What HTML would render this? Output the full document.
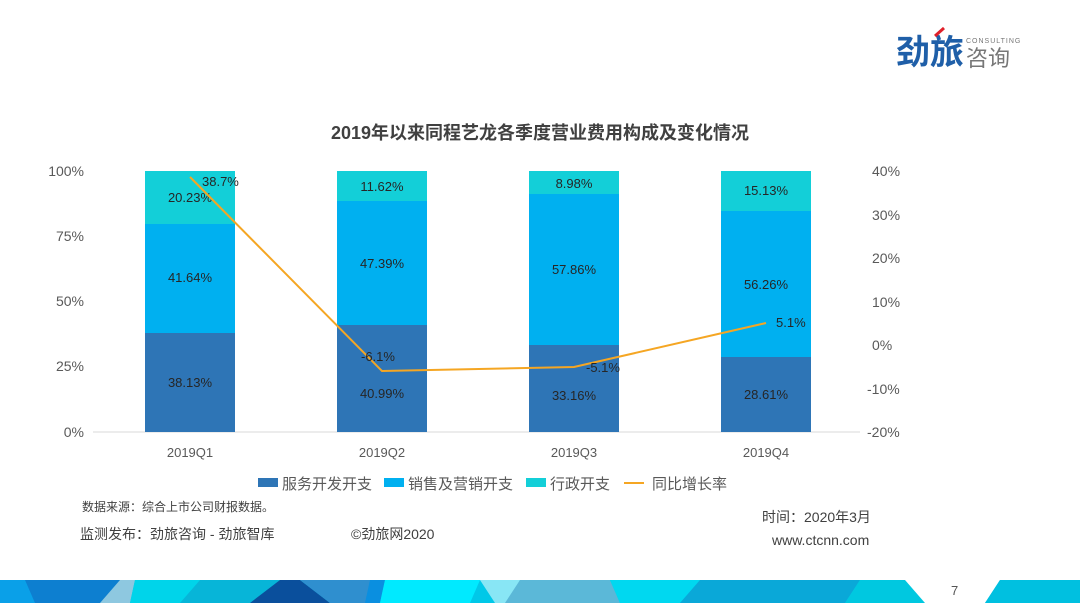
<!DOCTYPE html>
<html><head><meta charset="utf-8"><style>
body{margin:0;width:1080px;height:603px;overflow:hidden;background:#fff;font-family:"Liberation Sans","Noto Sans CJK SC",sans-serif}
</style></head><body>
<svg width="1080" height="603" xmlns="http://www.w3.org/2000/svg" font-family="Liberation Sans, Noto Sans CJK SC, sans-serif">
<!-- logo -->
<text x="896" y="64" font-size="34" font-weight="bold" fill="#1f5fa8" font-family="Noto Sans CJK SC, sans-serif">劲旅</text>
<path d="M935 36 L944 28" stroke="#e0202a" stroke-width="3"/>
<text x="966" y="43" font-size="7" fill="#777" letter-spacing="1">CONSULTING</text>
<text x="966" y="66" font-size="22" fill="#777" font-family="Noto Sans CJK SC, sans-serif">咨询</text>
<!-- title -->
<text x="540" y="139" text-anchor="middle" font-size="18" font-weight="bold" fill="#404040">2019年以来同程艺龙各季度营业费用构成及变化情况</text>
<!-- axes labels -->
<g font-size="14" fill="#595959" text-anchor="end">
<text x="84" y="176">100%</text><text x="84" y="241">75%</text><text x="84" y="306">50%</text><text x="84" y="371">25%</text><text x="84" y="437">0%</text>
</g>
<g font-size="14" fill="#595959">
<text x="872" y="176">40%</text><text x="872" y="220">30%</text><text x="872" y="263">20%</text><text x="872" y="307">10%</text><text x="872" y="350">0%</text><text x="867" y="394">-10%</text><text x="867" y="437">-20%</text>
</g>
<line x1="93" y1="432" x2="860" y2="432" stroke="#d9d9d9"/>
<!-- bars -->
<g>
<rect x="145" y="171" width="90" height="53" fill="#13cfd8"/><rect x="145" y="224" width="90" height="109" fill="#00b0f0"/><rect x="145" y="333" width="90" height="99" fill="#2e75b6"/>
<rect x="337" y="171" width="90" height="30" fill="#13cfd8"/><rect x="337" y="201" width="90" height="124" fill="#00b0f0"/><rect x="337" y="325" width="90" height="107" fill="#2e75b6"/>
<rect x="529" y="171" width="90" height="23" fill="#13cfd8"/><rect x="529" y="194" width="90" height="151" fill="#00b0f0"/><rect x="529" y="345" width="90" height="87" fill="#2e75b6"/>
<rect x="721" y="171" width="90" height="40" fill="#13cfd8"/><rect x="721" y="211" width="90" height="146" fill="#00b0f0"/><rect x="721" y="357" width="90" height="75" fill="#2e75b6"/>
</g>
<g font-size="13" fill="#262626" text-anchor="middle">
<text x="190" y="202">20.23%</text><text x="190" y="282">41.64%</text><text x="190" y="387">38.13%</text>
<text x="382" y="191">11.62%</text><text x="382" y="268">47.39%</text><text x="382" y="398">40.99%</text>
<text x="574" y="188">8.98%</text><text x="574" y="274">57.86%</text><text x="574" y="400">33.16%</text>
<text x="766" y="195">15.13%</text><text x="766" y="289">56.26%</text><text x="766" y="399">28.61%</text>
</g>
<polyline points="190,177 382,371 574,367 766,323" fill="none" stroke="#f5a623" stroke-width="2"/>
<g font-size="13" fill="#262626">
<text x="202" y="186">38.7%</text><text x="361" y="361">-6.1%</text><text x="586" y="372">-5.1%</text><text x="776" y="327">5.1%</text>
</g>
<g font-size="13" fill="#595959" text-anchor="middle">
<text x="190" y="457">2019Q1</text><text x="382" y="457">2019Q2</text><text x="574" y="457">2019Q3</text><text x="766" y="457">2019Q4</text>
</g>
<!-- legend -->
<g font-size="15" fill="#595959">
<rect x="258" y="478" width="20" height="9" fill="#2e75b6"/><text x="282" y="489">服务开发开支</text>
<rect x="384" y="478" width="20" height="9" fill="#00b0f0"/><text x="408" y="489">销售及营销开支</text>
<rect x="526" y="478" width="20" height="9" fill="#13cfd8"/><text x="550" y="489">行政开支</text>
<line x1="624" y1="483" x2="644" y2="483" stroke="#f5a623" stroke-width="2"/><text x="652" y="489">同比增长率</text>
</g>
<text x="82" y="511" font-size="12" fill="#404040">数据来源：综合上市公司财报数据。</text>
<text x="80" y="539" font-size="14" fill="#404040">监测发布：劲旅咨询 - 劲旅智库</text>
<text x="351" y="539" font-size="14" fill="#404040">©劲旅网2020</text>
<text x="762" y="522" font-size="14" fill="#404040">时间：2020年3月</text>
<text x="772" y="545" font-size="14" fill="#404040">www.ctcnn.com</text>
<!-- bottom band -->
<rect x="0" y="580" width="1080" height="23" fill="#00c8e8"/>
<polygon points="0,580 60,580 70,603 0,603" fill="#0aa0e8"/>
<polygon points="25,580 120,580 110,603 35,603" fill="#0d7fd0"/>
<polygon points="120,580 135,580 130,603 100,603" fill="#8ec8e0"/>
<polygon points="135,580 200,580 200,603 130,603" fill="#00d4ea"/>
<polygon points="200,580 280,580 265,603 180,603" fill="#07b5d8"/>
<polygon points="280,580 300,580 330,603 250,603" fill="#0a4f9c"/>
<polygon points="300,580 370,580 380,603 330,603" fill="#2f8fcf"/>
<polygon points="370,580 385,580 380,603 365,603" fill="#0a8fe0"/>
<polygon points="385,580 480,580 470,603 380,603" fill="#00eaff"/>
<polygon points="480,580 520,580 510,603 495,603" fill="#88e6f5"/>
<polygon points="520,580 610,580 620,603 505,603" fill="#5bb8d8"/>
<polygon points="610,580 700,580 680,603 620,603" fill="#00d8f0"/>
<polygon points="700,580 860,580 845,603 680,603" fill="#0aa8d8"/>
<polygon points="860,580 905,580 925,603 845,603" fill="#00c8e0"/>
<polygon points="905,580 1000,580 985,603 925,603" fill="#fff"/>
<polygon points="1000,580 1080,580 1080,603 985,603" fill="#00c0e0"/>
<text x="951" y="595" font-size="13" fill="#555">7</text>
</svg>
</body></html>
